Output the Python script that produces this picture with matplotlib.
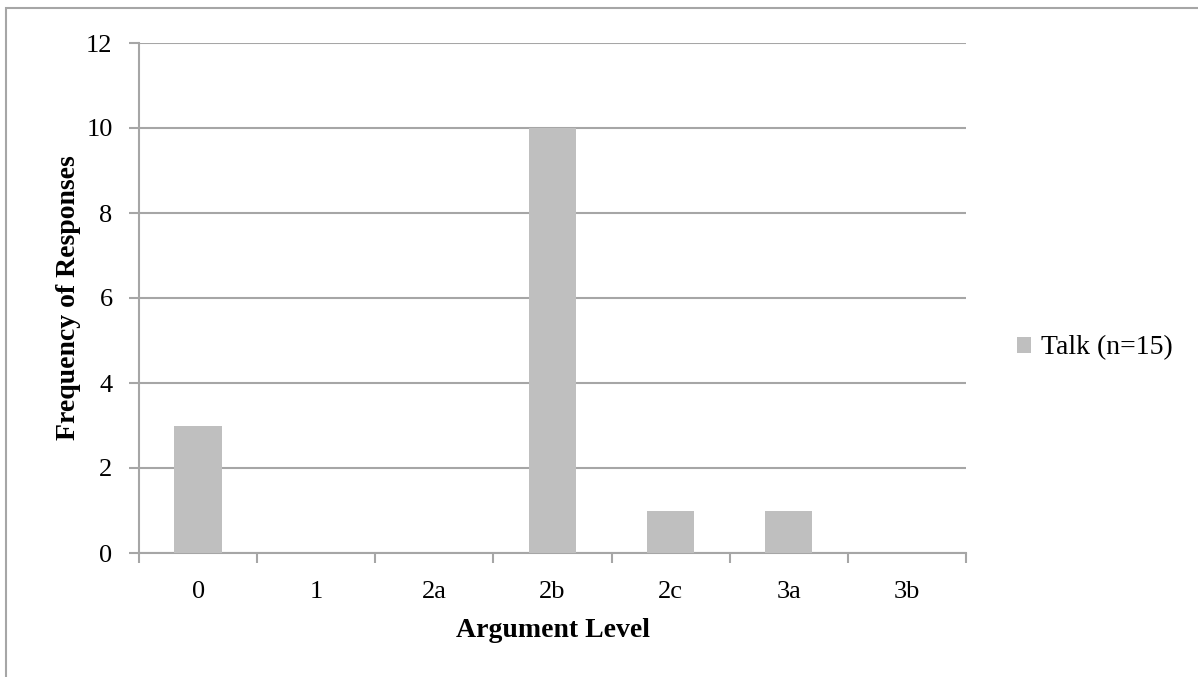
import numpy as np
import matplotlib.pyplot as plt
from matplotlib.patches import Rectangle

levels = ['0', '1', '2a', '2b', '2c', '3a', '3b']
talk = [3, 0, 0, 10, 1, 1, 0]
series_name = 'Talk (n=15)'

plt.rcParams['font.family'] = ['Liberation Serif', 'DejaVu Serif']

grey = '#a6a6a6'
bar_col = '#bfbfbf'
fs = 19

fig = plt.figure(figsize=(11.98, 6.77), dpi=100)
ax = fig.add_axes([139/1198, 1 - 553/677, (966 - 139)/1198, (553 - 43)/677])

# chart-area border (top and left visible in the picture)
fig.patches.append(Rectangle((6/1198, -0.1), 1.2, 1 - 8/677 + 0.1,
                             transform=fig.transFigure, fill=False,
                             edgecolor=grey, lw=1.5))

x = np.arange(len(levels))
ax.bar(x, talk, width=0.4, color=bar_col, label=series_name, zorder=3)

ax.set_xlim(-0.5, len(levels) - 0.5)
ax.set_ylim(0, 12)
ax.set_yticks(range(0, 13, 2))
ax.yaxis.grid(True, color=grey, lw=1.5, zorder=0)
ax.set_axisbelow(True)

ax.set_xticks(x)
ax.set_xticklabels(levels)
ax.set_xticks(np.arange(-0.5, len(levels)), minor=True)
ax.tick_params(axis='x', which='major', length=0, pad=20, labelsize=fs)
ax.tick_params(axis='x', which='minor', length=7, width=1.5, color=grey)
ax.tick_params(axis='y', length=7, width=1.5, color=grey, labelsize=fs, pad=12)

for s in ['top', 'right']:
    ax.spines[s].set_visible(False)
for s in ['left', 'bottom']:
    ax.spines[s].set_color(grey)
    ax.spines[s].set_linewidth(1.5)

ax.set_xlabel('Argument Level', fontsize=20, fontweight='bold', labelpad=11)
ax.set_ylabel('Frequency of Responses', fontsize=20, fontweight='bold', labelpad=4)

ax.legend(loc='center left', bbox_to_anchor=(1.032, (553 - 348) / 510), frameon=False,
          fontsize=20, handlelength=0.5, handleheight=0.5, handletextpad=0.35)

fig.savefig('out.png', dpi=100)
